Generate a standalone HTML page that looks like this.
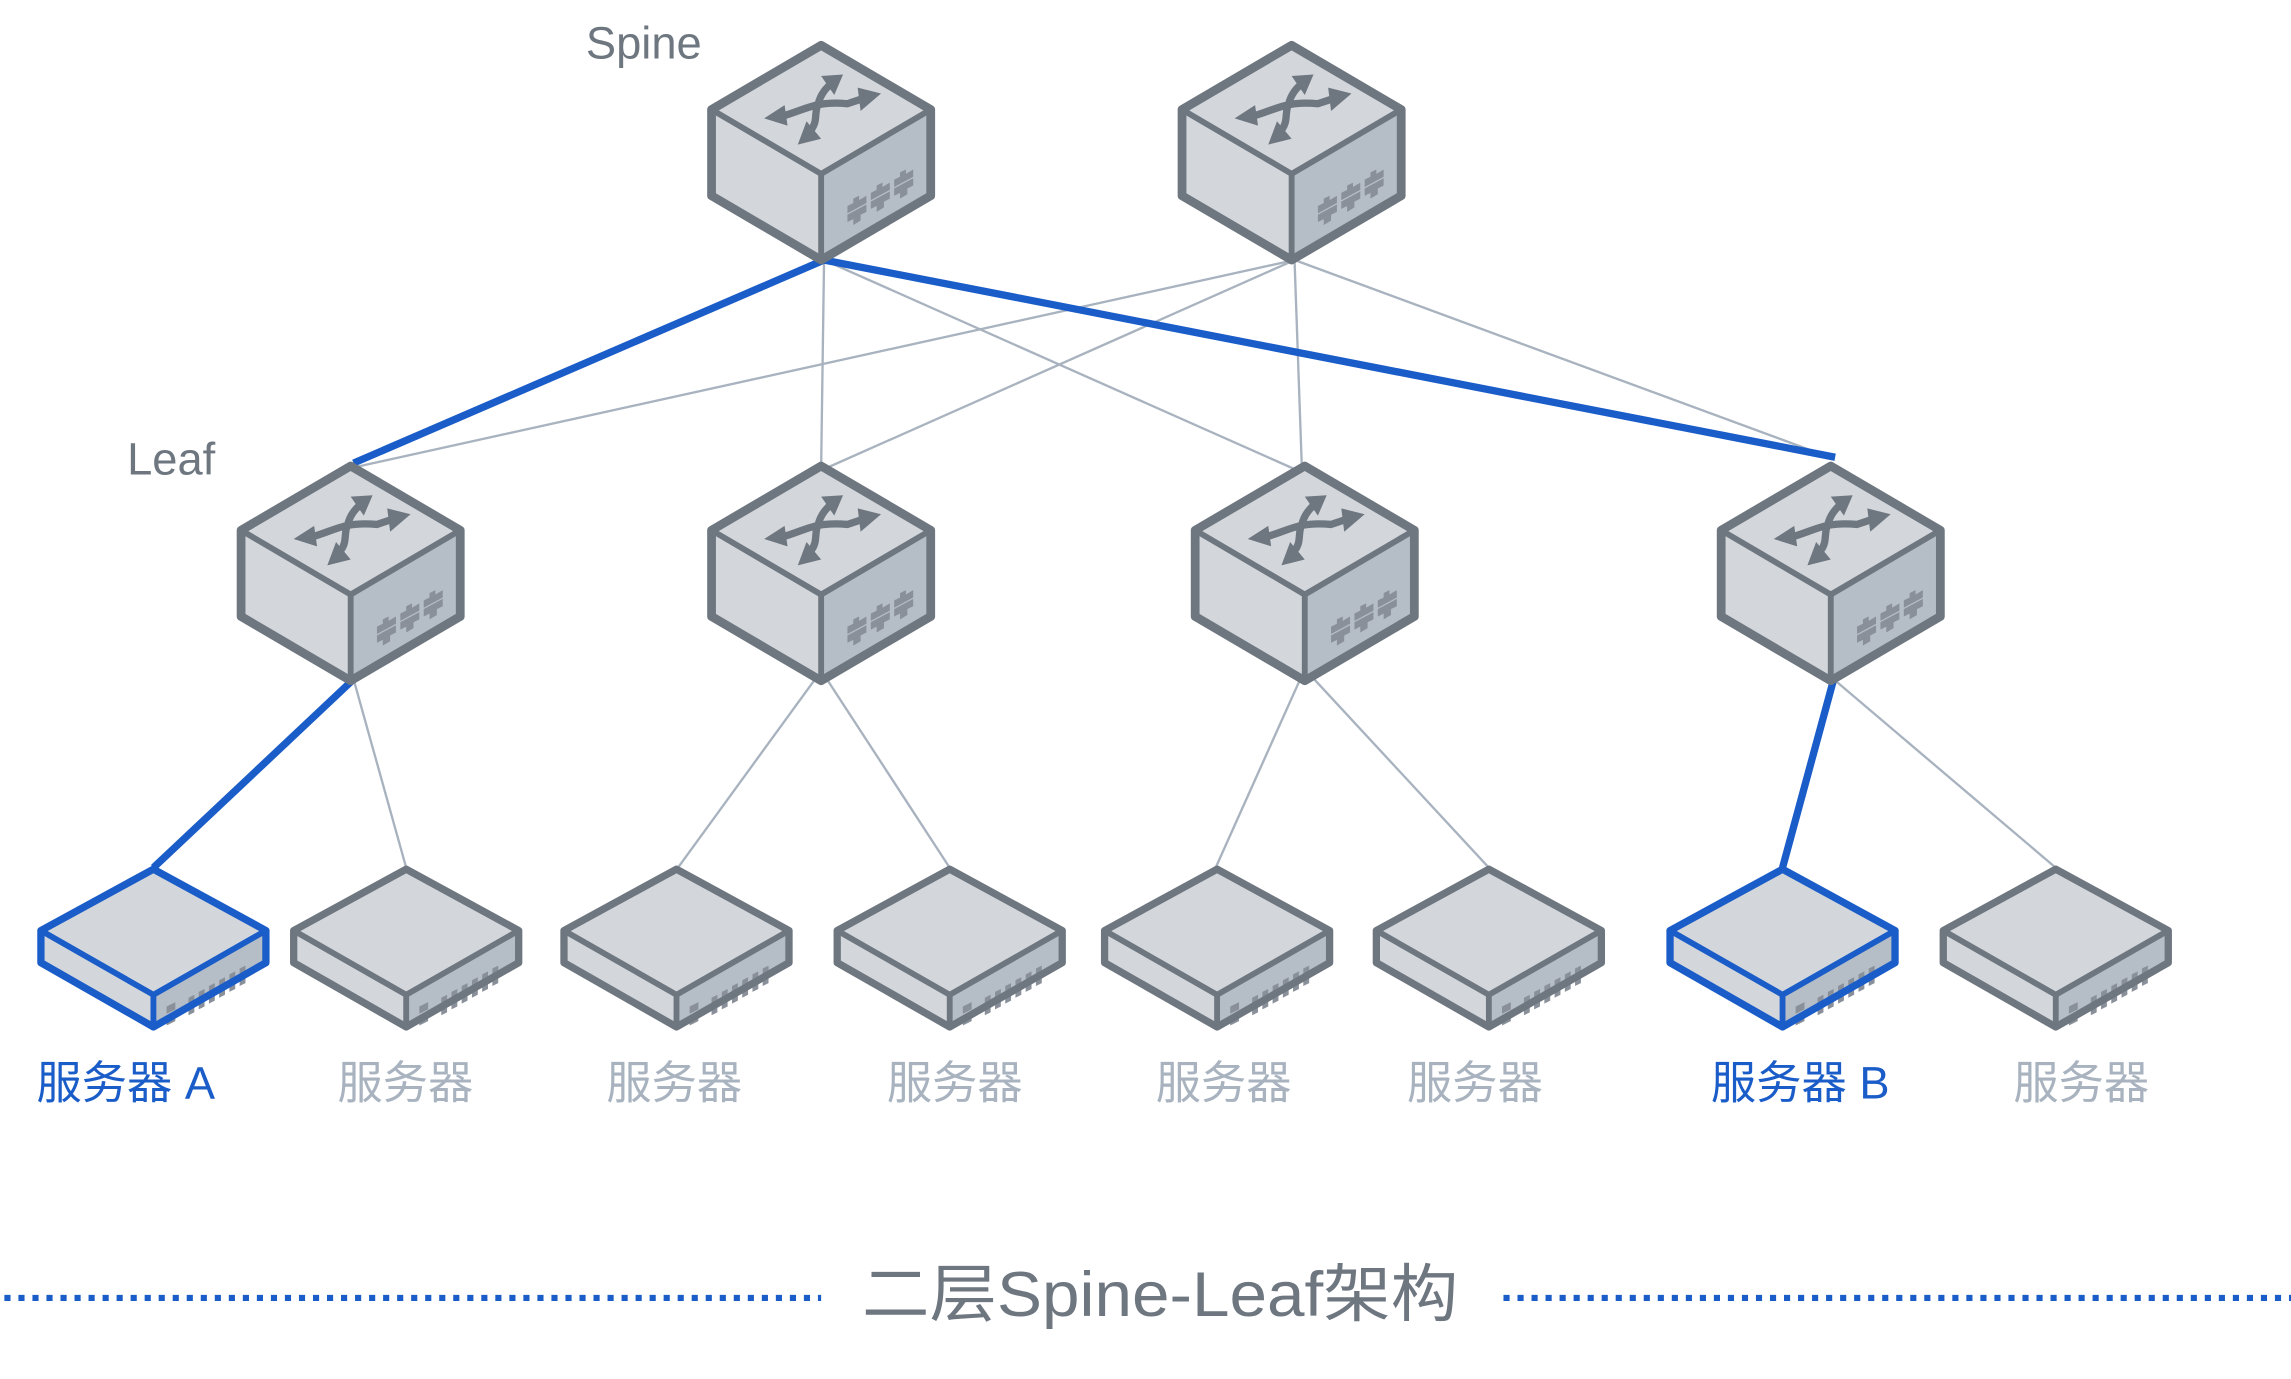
<!DOCTYPE html>
<html><head><meta charset="utf-8"><style>
html,body{margin:0;padding:0;background:#fff;}
svg{display:block;}
text{font-family:"Liberation Sans","Noto Sans CJK SC",sans-serif;}
</style></head><body>
<svg width="2291" height="1379" viewBox="0 0 1568 944" preserveAspectRatio="none" xmlns="http://www.w3.org/2000/svg">
<defs>
<g id="sw">
  <polygon points="-75,44 0,88 0,147 -75,103" fill="#d3d7db"/>
  <polygon points="75,44 0,88 0,147 75,103" fill="#b5bdc7"/>
  <polygon points="0,0 75,44 0,88 -75,44" fill="#d3d7db"/>
  <polyline points="-75,44 0,88 75,44" fill="none" stroke="#6e7680" stroke-width="4" stroke-linejoin="round"/>
  <line x1="0" y1="88" x2="0" y2="147" stroke="#6e7680" stroke-width="4"/>
  <polygon points="0,0 75,44 75,103 0,147 -75,103 -75,44" fill="none" stroke="#6e7680" stroke-width="6" stroke-linejoin="round"/>
  <path d="M-28,49 C-10,44 -5,38 18,40 L30,36" fill="none" stroke="#6e7680" stroke-width="5"/>
  <polygon points="-39,50 -25,41 -23,55" fill="#6e7680"/>
  <polygon points="41,33 25,29 27,45" fill="#6e7680"/>
  <path d="M-7,58 C-2,52 -5,46 -2,40 C0,32 5,28 7,26" fill="none" stroke="#6e7680" stroke-width="5"/>
  <polygon points="15,20 0,21 9,34" fill="#6e7680"/>
  <polygon points="-16,68 0,64 -10,52" fill="#6e7680"/>
  <g fill="#8a9099">
    <path d="M18,110 l4,-2 v-3 l4,-2 v3 l5,-3 v5 l-13,7z M18,116 l13,-7 v5 l-4,2 v4 l-5,3 v-4 l-4,2z"/>
    <path d="M34,101 l4,-2 v-3 l4,-2 v3 l5,-3 v5 l-13,7z M34,107 l13,-7 v5 l-4,2 v4 l-5,3 v-4 l-4,2z"/>
    <path d="M50,92 l4,-2 v-3 l4,-2 v3 l5,-3 v5 l-13,7z M50,98 l13,-7 v5 l-4,2 v4 l-5,3 v-4 l-4,2z"/>
  </g>
</g>
<g id="srvbody">
  <polygon points="-77,42 0,86 0,108 -77,64" fill="#d3d7db"/>
  <polygon points="77,42 0,86 0,108 77,64" fill="#b5bdc7"/>
  <polygon points="0,0 77,42 0,86 -77,42" fill="#d3d7db"/>
  <g fill="#8a9099">
    <path d="M9,94 l6,-3 v5 l-6,3z M9,102 l6,-3 v5 l-6,3z"/>
    <path d="M24,88 l4,-2 v12 l-4,2z M31,84 l4,-2 v12 l-4,2z M38,80 l4,-2 v12 l-4,2z M45,76 l4,-2 v12 l-4,2z M52,72 l4,-2 v12 l-4,2z M59,68 l4,-2 v12 l-4,2z"/>
  </g>
</g>
<g id="srvG"><use href="#srvbody"/><polygon points="0,0 77,42 77,64 0,108 -77,64 -77,42" fill="none" stroke="#6e7680" stroke-width="5" stroke-linejoin="round"/><polyline points="-77,42 0,86 77,42" fill="none" stroke="#6e7680" stroke-width="4"/><line x1="0" y1="86" x2="0" y2="108" stroke="#6e7680" stroke-width="4"/></g>
<g id="srvB"><use href="#srvbody"/><polygon points="0,0 77,42 77,64 0,108 -77,64 -77,42" fill="none" stroke="#1a5cc8" stroke-width="5" stroke-linejoin="round"/><polyline points="-77,42 0,86 77,42" fill="none" stroke="#1a5cc8" stroke-width="4"/><line x1="0" y1="86" x2="0" y2="108" stroke="#1a5cc8" stroke-width="4"/></g>
</defs>

<g stroke="#a8b3bf" stroke-width="1.6" fill="none">
  <line x1="564" y1="178" x2="562" y2="320"/>
  <line x1="564" y1="178" x2="888" y2="322"/>
  <line x1="886" y1="178" x2="242" y2="320"/>
  <line x1="886" y1="178" x2="562" y2="322"/>
  <line x1="886" y1="178" x2="891" y2="320"/>
  <line x1="886" y1="178" x2="1255" y2="314"/>
  <line x1="242" y1="465" x2="278" y2="594"/>
  <line x1="560" y1="462" x2="464" y2="594"/>
  <line x1="564" y1="462" x2="650" y2="594"/>
  <line x1="893" y1="458" x2="832" y2="594"/>
  <line x1="893" y1="458" x2="1019" y2="594"/>
  <line x1="1255" y1="465" x2="1407" y2="594"/>
</g>
<g stroke="#1a5cc8" stroke-width="5" fill="none">
  <line x1="564" y1="178" x2="242" y2="317"/>
  <line x1="564" y1="178" x2="1256" y2="313"/>
  <line x1="242" y1="465" x2="105" y2="594"/>
  <line x1="1255" y1="465" x2="1220" y2="594"/>
</g>

<use href="#sw" x="562" y="31"/>
<use href="#sw" x="884" y="31"/>
<use href="#sw" x="240" y="319"/>
<use href="#sw" x="562" y="319"/>
<use href="#sw" x="893" y="319"/>
<use href="#sw" x="1253" y="319"/>

<use href="#srvB" x="105" y="595"/>
<use href="#srvG" x="278" y="595"/>
<use href="#srvG" x="463" y="595"/>
<use href="#srvG" x="650" y="595"/>
<use href="#srvG" x="833" y="595"/>
<use href="#srvG" x="1019" y="595"/>
<use href="#srvB" x="1220" y="595"/>
<use href="#srvG" x="1407" y="595"/>

<text x="401" y="40" font-size="31" fill="#6e7680">Spine</text>
<text x="87" y="325" font-size="31" fill="#6e7680">Leaf</text>
<g font-size="31">
<text x="25" y="752" fill="#1a5cc8">服务器 A</text>
<text x="231" y="752" fill="#a8b3bf">服务器</text>
<text x="415" y="752" fill="#a8b3bf">服务器</text>
<text x="607" y="752" fill="#a8b3bf">服务器</text>
<text x="791" y="752" fill="#a8b3bf">服务器</text>
<text x="963" y="752" fill="#a8b3bf">服务器</text>
<text x="1171" y="752" fill="#1a5cc8">服务器 B</text>
<text x="1378" y="752" fill="#a8b3bf">服务器</text>
</g>

<text x="590" y="901" font-size="43" fill="#6e7680" textLength="408" lengthAdjust="spacingAndGlyphs">二层Spine-Leaf架构</text>
<line x1="3" y1="888.5" x2="562" y2="888.5" stroke="#1a5cc8" stroke-width="4.2" stroke-dasharray="4.2 5.4"/>
<line x1="1029" y1="888.5" x2="1568" y2="888.5" stroke="#1a5cc8" stroke-width="4.2" stroke-dasharray="4.2 5.4"/>
</svg>
</body></html>
